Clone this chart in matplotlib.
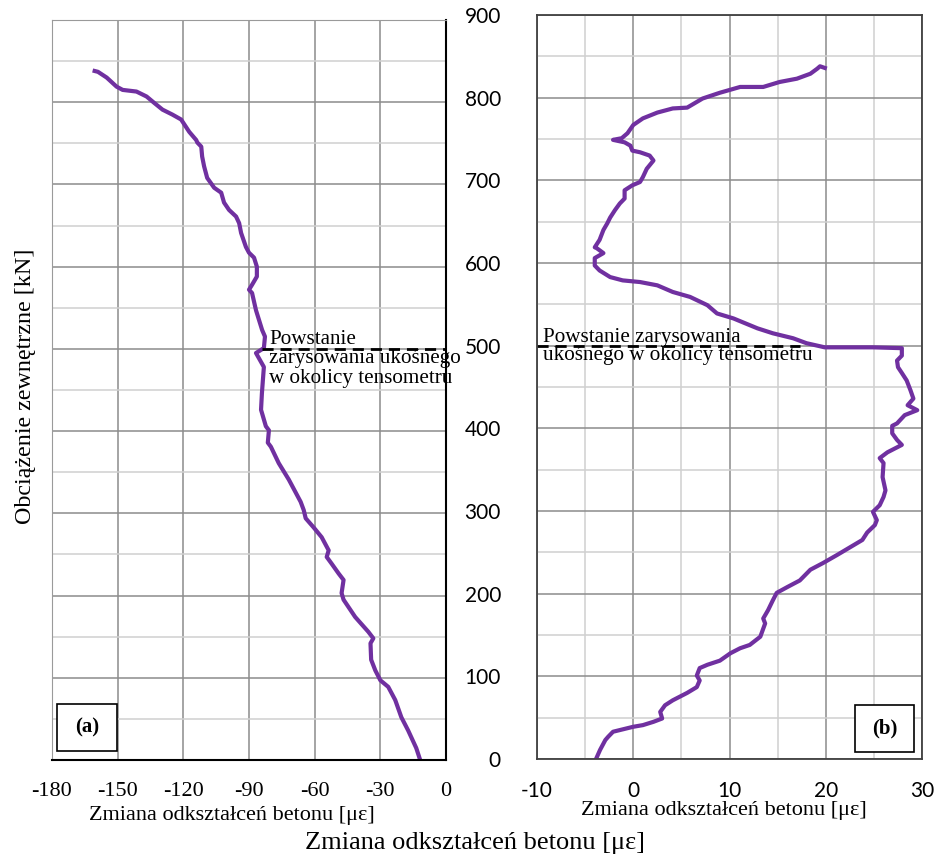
import matplotlib
matplotlib.use("Agg")
import matplotlib.pyplot as plt
from matplotlib.patches import Rectangle
import numpy as np

plt.rcParams['font.family'] = ['Liberation Serif', 'DejaVu Serif']
plt.rcParams['axes.unicode_minus'] = False

# panel (a): strain change vs load
strain_a = [-11.8, -13.6, -17.3, -20.4, -23.2, -26.4, -30.0, -32.3, -34.2, -34.5, -33.2, -35.5,
            -41.5, -46.8, -47.7, -46.8, -49.1, -52.3, -54.5, -53.6, -56.8, -60.5, -64.1, -65.0,
            -66.4, -71.8, -76.4, -80.0, -81.4, -80.9, -82.3, -84.5, -84.1, -83.2, -86.8, -83.2,
            -82.7, -84.0, -86.8, -88.6, -90.0, -88.6, -86.4, -86.4, -87.7, -90.0, -91.4, -93.6,
            -94.5, -95.9, -99.1, -101.4, -102.7, -105.9, -109.1, -110.5, -111.4, -111.8, -113.6,
            -114.1, -117.3, -121.0, -125.0, -129.5, -133.2, -136.8, -141.4, -147.7, -150.5,
            -155.0, -159.0, -160.5]
load_a = [0, 14.6, 36, 52, 73, 89, 97, 109, 122, 142, 148, 156,
          174, 195, 203, 219, 227, 239, 247, 255, 271, 283, 294, 304,
          314, 341, 361, 381, 386, 401, 406, 426, 446, 478, 495, 501,
          515, 523, 547, 568, 572, 578, 588, 600, 611, 617, 624, 641,
          653, 661, 669, 678, 690, 696, 708, 722, 734, 746, 751,
          754, 764, 779, 785, 791, 799, 807, 813, 815, 819,
          830, 837, 838]

# panel (b)
strain_b = [-3.87, -3.45, -2.9, -2.6, -2.1, -1.4, 0.0, 1.0, 2.1, 3.0, 2.8, 3.3, 4.1, 5.6, 6.6,
            6.9, 6.6, 6.9, 7.7, 9.0, 10.1, 11.1, 12.1, 13.2, 13.7, 13.5, 14.0, 14.5, 14.9, 16.0,
            17.3, 18.4, 19.7, 21.2, 22.5, 23.8, 24.3, 25.1, 25.3, 24.9, 25.6, 26.0, 26.2, 25.9,
            26.0, 25.6, 26.4, 27.9, 27.4, 26.9, 26.9, 27.4, 28.2, 29.5, 28.5, 29.1, 28.8, 28.4,
            27.9, 27.5, 27.4, 27.9, 27.9, 24.9, 19.9, 18.0, 16.6, 14.5, 12.9, 10.4, 8.7, 7.7,
            5.9, 4.1, 2.5, 0.7, -1.1, -2.4, -3.5, -4.0, -4.0, -3.1, -3.8, -4.0, -3.5, -3.1,
            -2.7, -2.4, -1.9, -1.4, -0.9, -0.9, -0.1, 0.7, 1.0, 1.4, 2.1, 1.7, 0.7, -0.1, -0.3,
            -0.9, -2.1, -1.2, -0.6, 0.0, 1.0, 2.5, 4.1, 5.6, 7.2, 9.0, 11.1, 13.5, 15.2, 17.0,
            18.4, 19.1, 19.4, 19.9]
load_b = [0, 11, 23, 27, 33, 35, 39, 41, 45, 49, 57, 65, 71, 80, 87,
          95, 101, 110, 114, 119, 128, 134, 138, 148, 164, 170, 180, 192, 201, 208,
          216, 229, 237, 247, 256, 265, 274, 283, 289, 299, 307, 317, 325, 341,
          358, 364, 371, 380, 386, 394, 403, 406, 416, 422, 428, 436, 446, 458,
          467, 474, 482, 488, 497, 498, 498, 503, 509, 515, 521, 533, 539, 549,
          559, 565, 573, 577, 579, 583, 591, 597, 606, 612, 618, 619, 628, 640,
          648, 655, 664, 672, 678, 688, 694, 698, 704, 714, 724, 730, 734, 736, 742,
          746, 749, 751, 757, 767, 775, 782, 787, 788, 799, 806, 813, 813, 819, 823,
          829, 835, 838, 836]

crack_load = 500
crack_text_a = "Powstanie\nzarysowania ukośnego\nw okolicy tensometru"
crack_text_b = "Powstanie zarysowania\nukośnego w okolicy tensometru"
xlabel = "Zmiana odkształceń betonu [με]"
ylabel = "Obciążenie zewnętrzne [kN]"

line_color = '#7030A0'
major_grid = '#8c8c8c'
minor_grid = '#d0d0d0'

fig = plt.figure(figsize=(9.38, 8.59), dpi=100)
ax1 = fig.add_axes([0.0554, 0.1152, 0.4201, 0.8615])
ax2 = fig.add_axes([0.5725, 0.1164, 0.4105, 0.8661])


def style_axes(ax, xmin, xmax, xmajor, xminor):
    ax.set_xlim(xmin, xmax)
    ax.set_ylim(0, 900)
    ax.set_xticks(np.arange(xmin, xmax + 0.1, xmajor))
    if xminor:
        ax.set_xticks(np.arange(xmin, xmax + 0.1, xminor), minor=True)
    ax.set_yticks(np.arange(0, 901, 100))
    ax.set_yticks(np.arange(50, 900, 100), minor=True)
    ax.grid(which='major', color=major_grid, lw=1.1)
    ax.grid(which='minor', color=minor_grid, lw=1.1)
    ax.set_axisbelow(True)
    ax.tick_params(which='both', length=0)
    ax.tick_params(axis='x', pad=16)


style_axes(ax1, -180, 0, 30, None)
ax1.set_yticklabels([])
for lab in ax1.get_xticklabels():
    lab.set_fontsize(16)
ax1.plot(strain_a, load_a, color=line_color, lw=3)
ax1.plot([-84, 0], [crack_load, crack_load], color='black', lw=2, ls=(0, (4, 2.5)))
ax1.text(-80.9, 488, crack_text_a, fontsize=15.2, va='center', ha='left', linespacing=1.05)
for s in ['left', 'top']:
    ax1.spines[s].set_color('#9a9a9a')
for s in ['right', 'bottom']:
    ax1.spines[s].set_color('black')
    ax1.spines[s].set_linewidth(1.5)
ax1.add_patch(Rectangle((0.013, 0.012), 0.152, 0.064, transform=ax1.transAxes,
                        fill=True, facecolor='white', edgecolor='black', lw=1.2, zorder=5))
ax1.text(0.089, 0.044, "(a)", transform=ax1.transAxes, fontsize=15, fontweight='bold',
         ha='center', va='center', zorder=6)

style_axes(ax2, -10, 30, 10, 5)
ax2.tick_params(axis='y', pad=26)
for lab in ax2.get_xticklabels() + ax2.get_yticklabels():
    lab.set_fontfamily(['Lato', 'DejaVu Sans'])
    lab.set_fontsize(15)
ax2.plot(strain_b, load_b, color=line_color, lw=3)
ax2.plot([-10, 17.3], [crack_load, crack_load], color='black', lw=2, ls=(0, (4, 2.5)))
ax2.text(-9.4, 499, crack_text_b, fontsize=15.2, va='center', ha='left', linespacing=0.95)
for s in ax2.spines.values():
    s.set_color('#404040')
    s.set_linewidth(1.3)
ax2.add_patch(Rectangle((0.826, 0.0094), 0.153, 0.0632, transform=ax2.transAxes,
                        fill=True, facecolor='white', edgecolor='black', lw=1.2, zorder=5))
ax2.text(0.9025, 0.041, "(b)", transform=ax2.transAxes, fontsize=15, fontweight='bold',
         ha='center', va='center', zorder=6)

fig.text(0.2473, 0.0512, xlabel, fontsize=16, ha='center', va='center')
fig.text(0.7719, 0.057, xlabel, fontsize=16, ha='center', va='center')
fig.text(0.506, 0.0186, xlabel, fontsize=19, ha='center', va='center')
fig.text(0.027, 0.55, ylabel, fontsize=17.3, rotation=90, ha='center', va='center')

fig.savefig('out.png', dpi=100)
